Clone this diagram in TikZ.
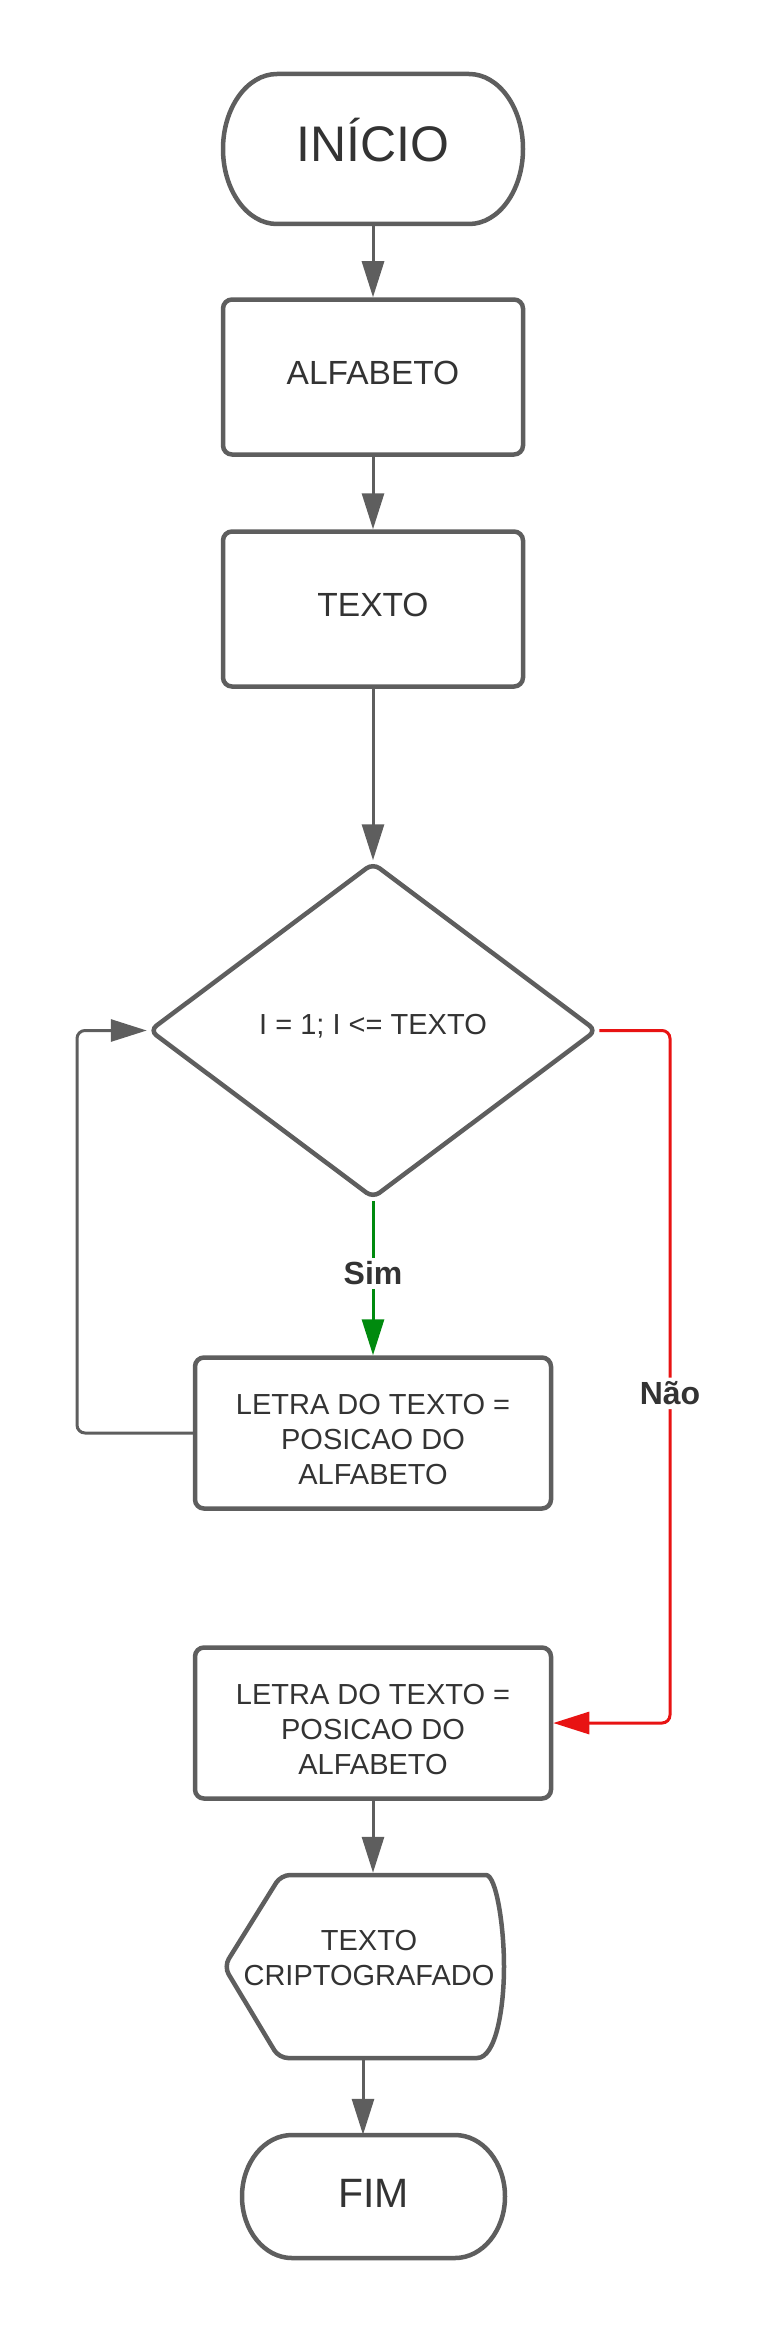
\documentclass[tikz,border=0pt]{standalone}
\usepackage{fontspec}
\setmainfont{Liberation Sans}
\usetikzlibrary{arrows.meta,shapes.geometric}
\definecolor{ln}{HTML}{5E5E5E}
\definecolor{tx}{HTML}{333333}
\definecolor{rd}{HTML}{E81313}
\definecolor{gn}{HTML}{008A0E}
\begin{document}
\begin{tikzpicture}[x=1pt,y=-1pt,
  shapeline/.style={draw=ln, line width=4.5pt},
  procbox/.style={shapeline, rectangle, rounded corners=9pt, fill=white, text=tx, align=center, inner sep=0pt},
  ghost/.style={rectangle, inner sep=0pt, outer sep=2.25pt, text=tx, align=center},
  conn/.style={draw=ln, line width=3pt, -{Triangle[length=36pt,width=22pt]}},
  lbl/.style={fill=white, text=tx, font=\fontsize{32}{38}\selectfont\bfseries, inner sep=4pt},
  boxtext/.style={text=tx, align=center, inner sep=0pt, font=\fontsize{29}{35}\selectfont},
]
\useasboundingbox (0,0) rectangle (776,2333);

% INICIO terminal
\draw[shapeline] (277,74) -- (469,74) .. controls (499,74) and (523,108) .. (523,149)
  .. controls (523,190) and (499,224) .. (469,224) -- (277,224)
  .. controls (247,224) and (223,190) .. (223,149)
  .. controls (223,108) and (247,74) .. (277,74) -- cycle;
\node[ghost, minimum width=296pt, minimum height=146pt, text height=26pt, text depth=0pt, font=\fontsize{50}{56}\selectfont] (ini) at (373,149) {INÍCIO};

\node[procbox, minimum width=300pt, minimum height=155pt, text height=14pt, text depth=0pt, font=\fontsize{33.5}{40}\selectfont] (alf) at (373,377) {ALFABETO};
\node[procbox, minimum width=300pt, minimum height=155pt, text height=14pt, text depth=0pt, font=\fontsize{33.5}{40}\selectfont] (txt) at (373,609) {TEXTO};

\node[shapeline, diamond, minimum width=448pt, minimum height=336pt, inner sep=0pt, rounded corners=8pt, fill=white, text=tx, text height=8.8pt, text depth=0pt, font=\fontsize{29}{34}\selectfont] (dia) at (373,1030.5) {I = 1; I <= TEXTO};

\node[procbox, minimum width=356pt, minimum height=151pt] (b1) at (373,1433) {};
\node[boxtext] (b1t) at (373,1439) {LETRA DO TEXTO =\\POSICAO DO\\ALFABETO};
\node[procbox, minimum width=356pt, minimum height=151pt] (b2) at (373,1723) {};
\node[boxtext] (b2t) at (373,1729) {LETRA DO TEXTO =\\POSICAO DO\\ALFABETO};

% display shape
\node[ghost, minimum width=270pt, minimum height=183pt] (disp) at (368,1966.5) {};
\draw[shapeline, rounded corners=9pt] (224,1966.5) -- (281,1875) -- (477,1875)
  [sharp corners] .. controls (496,1875) and (504,1925) .. (504,1966.5)
  .. controls (504,2008) and (496,2058) .. (477,2058)
  [rounded corners=9pt] -- (279,2058) -- cycle;
\node[boxtext] (disptxt) at (369,1958) {TEXTO\\CRIPTOGRAFADO};

% FIM terminal
\draw[shapeline] (292,2135) -- (455,2135) .. controls (482.6,2135) and (505,2162.5) .. (505,2196.5)
  .. controls (505,2230.5) and (482.6,2258) .. (455,2258) -- (292,2258)
  .. controls (264.4,2258) and (242,2230.5) .. (242,2196.5)
  .. controls (242,2162.5) and (264.4,2135) .. (292,2135) -- cycle;
\node[ghost, minimum width=259pt, minimum height=119pt, text height=21.4pt, text depth=0pt, font=\fontsize{41}{48}\selectfont] (fim) at (373.5,2196.5) {FIM};

% connectors
\draw[conn] (ini.south) -- (alf.north);
\draw[conn] (alf.south) -- (txt.north);
\draw[conn] (txt.south) -- (dia.north);
\draw[conn, draw=gn, -{Triangle[length=36pt,width=22pt,fill=gn]}] (dia.south) -- node[lbl, pos=0.47] {Sim} (b1.north);
\coordinate (lp) at (77,1433);
\draw[conn, rounded corners=8pt] (b1.west) -- (lp) |- (dia.west);
\coordinate (rp) at (670,1030.5);
\draw[conn, draw=rd, rounded corners=8pt] (dia.east) -- (rp) -- node[lbl, pos=0.524] {Não} (rp |- b2.east) -- (b2.east);
\draw[conn] (b2.south) -- (b2.south |- disp.north);
\draw[conn] ([xshift=-5pt]disp.south) -- ([xshift=-5pt]disp.south |- fim.north);
\end{tikzpicture}
\end{document}
